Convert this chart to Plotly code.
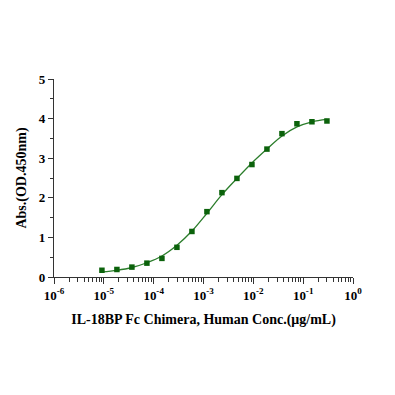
import plotly.graph_objects as go

# Concentrations (µg/mL), 2-fold dilution series
conc = [9.16e-6, 1.83e-5, 3.66e-5, 7.32e-5, 1.465e-4, 2.93e-4, 5.86e-4,
        1.172e-3, 2.344e-3, 4.688e-3, 9.375e-3, 0.01875, 0.0375, 0.075, 0.15, 0.3]
absorbance = [0.17, 0.19, 0.25, 0.35, 0.47, 0.75, 1.15, 1.65, 2.13, 2.49,
              2.84, 3.23, 3.62, 3.87, 3.92, 3.94]
fit_curve = [0.13, 0.17, 0.24, 0.36, 0.53, 0.80, 1.16, 1.61, 2.08, 2.49,
             2.88, 3.23, 3.56, 3.79, 3.92, 3.98]

x_tickvals = [1e-6, 1e-5, 1e-4, 1e-3, 1e-2, 1e-1, 1e0]
x_ticktext = ["10<sup>-6</sup>", "10<sup>-5</sup>", "10<sup>-4</sup>", "10<sup>-3</sup>",
              "10<sup>-2</sup>", "10<sup>-1</sup>", "10<sup>0</sup>"]
y_tickvals = [0, 1, 2, 3, 4, 5]
y_ticktext = ["0", "1", "2", "3", "4", "5"]

font_family = "Liberation Serif"

fig = go.Figure()
fig.add_trace(go.Scatter(
    x=conc, y=fit_curve, mode="lines",
    line=dict(color="#2b7d2b", width=1.3, shape="spline", smoothing=1.0),
    hoverinfo="skip", showlegend=False))
fig.add_trace(go.Scatter(
    x=conc, y=absorbance, mode="markers",
    marker=dict(symbol="square", size=5.5, color="#0b620b"),
    showlegend=False))

fig.update_layout(
    width=395, height=395,
    margin=dict(l=46, r=50, t=71, b=126),
    paper_bgcolor="white", plot_bgcolor="white",
    font=dict(family=font_family, color="black"),
    xaxis=dict(
        type="log", range=[-6, 0],
        tickvals=x_tickvals, ticktext=x_ticktext,
        ticks="outside", ticklen=6, tickwidth=1, tickcolor="#333",
        showline=True, linecolor="#333", linewidth=1.2,
        showgrid=False, zeroline=False,
        minor=dict(ticks="outside", ticklen=4, tickwidth=1, tickcolor="#333",
                   dtick="D1", showgrid=False),
        tickfont=dict(size=13, family=font_family, color="black", weight="bold"),
        title=dict(text="IL-18BP Fc Chimera, Human Conc.(μg/mL)",
                   font=dict(size=14, family=font_family, color="black", weight="bold"),
                   standoff=12),
    ),
    yaxis=dict(
        range=[0, 5], tickvals=y_tickvals, ticktext=y_ticktext,
        ticks="outside", ticklen=5, tickwidth=1, tickcolor="#333",
        showline=True, linecolor="#333", linewidth=1.2,
        showgrid=False, zeroline=False,
        minor=dict(ticks="outside", ticklen=3, tickwidth=1, tickcolor="#333",
                   dtick=0.5, showgrid=False),
        tickfont=dict(size=13, family=font_family, color="black", weight="bold"),
        title=dict(text="Abs.(OD.450nm)",
                   font=dict(size=14, family=font_family, color="black", weight="bold"),
                   standoff=8),
    ),
)

fig.write_html("out.html")
